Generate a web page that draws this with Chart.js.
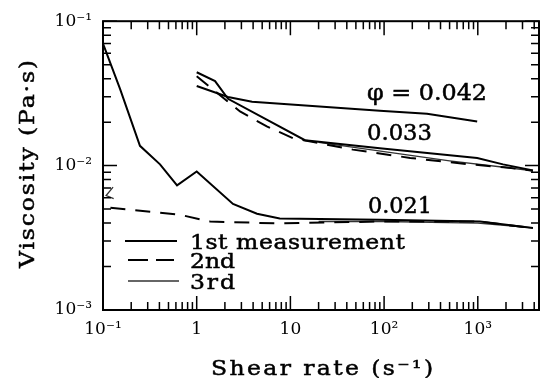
<!DOCTYPE html>
<html><head><meta charset="utf-8">
<script src="https://cdn.jsdelivr.net/npm/chart.js@4/dist/chart.umd.min.js"></script>
<style>html,body{margin:0;padding:0;background:#fff}</style>
</head><body>
<canvas id="c" width="542" height="378"></canvas>
<script>
// ---- tick / axis text ----
const xTickValues = [0.1, 1, 10, 100, 1000];
const xTickLabels = ['10⁻¹', '1', '10', '10²', '10³'];
const yTickValues = [0.001, 0.01, 0.1];
const yTickLabels = ['10⁻³', '10⁻²', '10⁻¹'];
const xRange = [0.1, 4500];
const yRange = [0.001, 0.1];
const xTitle = 'Shear rate (s⁻¹)';
const yTitle = 'Viscosity (Pa·s)';
const seriesNames = ['1st measurement', '2nd', '3rd'];
const curveLabels = ['φ = 0.042', '0.033', '0.021'];

// ---- data (shear rate in 1/s, viscosity in Pa·s) ----
const rate_042_1st = [1, 2.16, 3.9, 90, 287, 985];
const visc_042_1st = [0.0356, 0.0299, 0.0277, 0.024, 0.0229, 0.0202];

const rate_033_1st = [1, 1.57, 2.16, 14.3, 90, 985, 1860, 3880];
const visc_033_1st = [0.0443, 0.0385, 0.029, 0.015, 0.0132, 0.0113, 0.0102, 0.00924];

const rate_033_2nd = [1, 2.9, 5.6, 10.6, 46.5, 190, 820, 2030, 3880];
const visc_033_2nd = [0.0416, 0.0237, 0.0187, 0.0155, 0.0129, 0.0113, 0.0102, 0.0097, 0.0092];

const rate_033_3rd = [20, 100, 500, 2000, 3880];
const visc_033_3rd = [0.0145, 0.0125, 0.0108, 0.0097, 0.0092];

const rate_021_1st = [0.1, 0.152, 0.248, 0.406, 0.617, 1.0, 2.44, 4.4, 7.7, 90, 1055, 3880];
const visc_021_1st = [0.07, 0.034, 0.0137, 0.0102, 0.0073, 0.0091, 0.00543, 0.00464, 0.0043, 0.00422, 0.0041, 0.0037];

const rate_021_2nd = [0.12, 0.66, 1.39, 7.2, 90, 1000, 3880];
const visc_021_2nd = [0.0051, 0.00457, 0.0041, 0.00398, 0.0041, 0.0041, 0.0037];

const rate_021_3rd = [0.128, 0.108, 0.13, 0.5, 20, 100, 1000, 3880];
const visc_021_3rd = [0.0071, 0.0062, 0.0059, null, 0.0041, 0.0041, 0.0040, 0.0037];

// ---- styles ----
const seriesStyle = [
  { borderWidth: 2, borderDash: [], borderColor: '#000' },
  { borderWidth: 2, borderDash: [15, 10], borderColor: '#000' },
  { borderWidth: 1.3, borderDash: [], borderColor: '#333' }
];
const serif = '"DejaVu Serif", serif';

function pts(xs, ys) { return xs.map((x, i) => ({ x: x, y: ys[i] })); }
function ds(label, series, xs, ys) {
  return Object.assign({ label: label, series: series, data: pts(xs, ys),
    pointRadius: 0, tension: 0, fill: false, spanGaps: false }, seriesStyle[series]);
}

const datasets = [
  ds(curveLabels[0] + ' ' + seriesNames[0], 0, rate_042_1st, visc_042_1st),
  ds(curveLabels[1] + ' ' + seriesNames[0], 0, rate_033_1st, visc_033_1st),
  ds(curveLabels[1] + ' ' + seriesNames[1], 1, rate_033_2nd, visc_033_2nd),
  ds(curveLabels[1] + ' ' + seriesNames[2], 2, rate_033_3rd, visc_033_3rd),
  ds(curveLabels[2] + ' ' + seriesNames[0], 0, rate_021_1st, visc_021_1st),
  ds(curveLabels[2] + ' ' + seriesNames[1], 1, rate_021_2nd, visc_021_2nd),
  ds(curveLabels[2] + ' ' + seriesNames[2], 2, rate_021_3rd, visc_021_3rd)
];

// draw text: slightly widened glyphs, remaining width taken up by letter spacing
function fitText(ctx, text, x, y, width, size, rot) {
  ctx.save();
  ctx.font = size + 'px ' + serif;
  ctx.fillStyle = '#000';
  ctx.strokeStyle = '#000';
  ctx.lineWidth = 0.5;
  ctx.textBaseline = 'alphabetic';
  ctx.textAlign = 'left';
  ctx.letterSpacing = '0px';
  const w = ctx.measureText(text).width;
  const n = Array.from(text).length;
  const sx = Math.min(1.12, width / w);
  const ls = n > 1 ? (width / sx - w) / (n - 1) : 0;
  ctx.letterSpacing = Math.max(0, ls).toFixed(2) + 'px';
  ctx.translate(x, y);
  if (rot) ctx.rotate(rot);
  ctx.scale(sx, 1);
  ctx.fillText(text, 0, 0);
  ctx.strokeText(text, 0, 0);
  ctx.restore();
}

const decor = {
  id: 'decor',
  afterDatasetsDraw(chart) {
    const { ctx, chartArea: a, scales: { x, y } } = chart;
    ctx.save();
    ctx.strokeStyle = '#000';
    ctx.lineWidth = 2;
    ctx.strokeRect(a.left, a.top, a.right - a.left, a.bottom - a.top);
    ctx.lineWidth = 1.5;
    ctx.beginPath();
    for (let e = -1; e <= 3; e++) for (let m = 1; m <= 9; m++) {
      const v = m * Math.pow(10, e);
      if (v < x.min * 0.999 || v > x.max * 1.001) continue;
      const px = x.getPixelForValue(v);
      const L = m === 1 ? 14 : 8;
      ctx.moveTo(px, a.bottom); ctx.lineTo(px, a.bottom - L);
      ctx.moveTo(px, a.top); ctx.lineTo(px, a.top + L);
    }
    for (let e = -3; e <= -1; e++) for (let m = 1; m <= 9; m++) {
      const v = m * Math.pow(10, e);
      if (v < y.min * 0.999 || v > y.max * 1.001) continue;
      const py = y.getPixelForValue(v);
      const L = m === 1 ? 14 : 8;
      ctx.moveTo(a.left, py); ctx.lineTo(a.left + L, py);
      ctx.moveTo(a.right, py); ctx.lineTo(a.right - L, py);
    }
    ctx.stroke();
    ctx.restore();

    // curve labels
    fitText(ctx, curveLabels[0], 367, 100, 120, 23);
    fitText(ctx, curveLabels[1], 367, 140, 65, 23);
    fitText(ctx, curveLabels[2], 368, 213, 64, 23);

    // legend
    const rows = [241, 260, 281];
    const sxs = [[125, 177], [128, 174], [128, 179]];
    const textW = [215, 45, 45];
    for (let i = 0; i < 3; i++) {
      const st = seriesStyle[i];
      ctx.save();
      ctx.strokeStyle = st.borderColor;
      ctx.lineWidth = st.borderWidth;
      ctx.setLineDash(i === 1 ? [20, 8] : []);
      ctx.beginPath();
      ctx.moveTo(sxs[i][0], rows[i]); ctx.lineTo(sxs[i][1], rows[i]);
      ctx.stroke();
      ctx.restore();
      fitText(ctx, seriesNames[i], 190, rows[i] + 8, textW[i], 21);
    }

    // axis titles
    fitText(ctx, xTitle, 211, 375, 222, 21);
    fitText(ctx, yTitle, 34, 268, 208, 21, -Math.PI / 2);
  }
};

new Chart(document.getElementById('c'), {
  type: 'line',
  data: { datasets: datasets },
  options: {
    responsive: false,
    devicePixelRatio: 1,
    animation: false,
    layout: { padding: { top: 16, right: 3, left: 0, bottom: 0 } },
    plugins: { legend: { display: false }, tooltip: { enabled: false } },
    scales: {
      x: {
        type: 'logarithmic', min: xRange[0], max: xRange[1],
        grid: { display: false, drawTicks: false },
        border: { display: false },
        afterBuildTicks: s => { s.ticks = xTickValues.map(v => ({ value: v })); },
        afterFit: s => { s.height = 68; },
        ticks: {
          autoSkip: false, maxRotation: 0, padding: 9, color: '#000',
          font: { family: serif, size: 17 },
          callback: (v, i) => xTickLabels[i]
        }
      },
      y: {
        type: 'logarithmic', min: yRange[0], max: yRange[1],
        grid: { display: false, drawTicks: false },
        border: { display: false },
        afterBuildTicks: s => { s.ticks = yTickValues.map(v => ({ value: v })); },
        afterFit: s => { s.width = 103; },
        ticks: {
          autoSkip: false, padding: 11, color: '#000',
          font: { family: serif, size: 17 },
          callback: (v, i) => yTickLabels[i]
        }
      }
    }
  },
  plugins: [decor]
});
</script>
</body></html>
